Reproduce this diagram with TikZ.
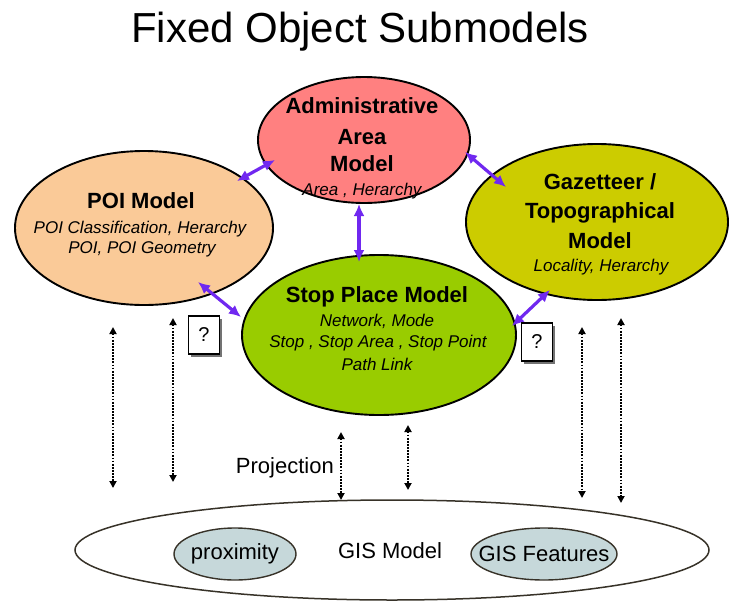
\documentclass[tikz,border=0pt]{standalone}
\usepackage{fontspec}
\setmainfont{Liberation Sans}
\usetikzlibrary{shapes.geometric,arrows.meta,calc,shadows}
\definecolor{adminfill}{RGB}{255,128,128}
\definecolor{poifill}{RGB}{250,202,152}
\definecolor{gazfill}{RGB}{204,204,0}
\definecolor{stopfill}{RGB}{153,204,0}
\definecolor{gisfill}{RGB}{198,216,218}
\definecolor{gisline}{RGB}{55,50,40}
\definecolor{arrowpurple}{RGB}{112,40,240}
\begin{document}
\begin{tikzpicture}[x=1pt,y=-1pt,
  model/.style={ellipse, draw=black, line width=1.9pt, inner sep=0pt},
  gisin/.style={ellipse, draw=gisline, line width=1.4pt, fill=gisfill, inner sep=0pt},
  headtxt/.style={anchor=base, inner sep=0pt, font=\fontsize{22}{26}\selectfont\bfseries},
  subtxt/.style={anchor=base, inner sep=0pt, font=\fontsize{17}{20}\selectfont\itshape},
  plaintxt/.style={font=\fontsize{22}{26}\selectfont},
  parrow/.style={draw=arrowpurple, line width=3.2pt, {Latex[length=12pt,width=11pt]}-{Latex[length=12pt,width=11pt]}},
  dotarrow/.style={draw=black, line width=2.2pt, dash pattern=on 1.8pt off 1.3pt, {Triangle[length=7pt,width=7pt]}-{Triangle[length=7pt,width=7pt]}},
  qbox/.style={draw=black, fill=white, line width=1.1pt, minimum width=31pt, minimum height=38pt, inner sep=0pt,
    font=\fontsize{20}{24}\selectfont, drop shadow={shadow xshift=2.5pt, shadow yshift=-2.5pt, fill=gray!90!black, opacity=1}}
]
\useasboundingbox (0,0) rectangle (729,603);

% title
\node[anchor=base, inner sep=0pt, font=\fontsize{42}{48}\selectfont] (title) at (360,42) {Fixed Object Submodels};

% model ellipses
\node[model, fill=poifill, minimum width=258pt, minimum height=154pt] (poi) at (144,228) {};
\node[model, fill=gazfill, minimum width=262pt, minimum height=156pt] (gaz) at (597,222) {};
\node[model, fill=adminfill, minimum width=212pt, minimum height=126pt] (admin) at (364,140) {};
\node[model, fill=stopfill, minimum width=274pt, minimum height=160pt] (stop) at (379,335) {};

% texts
\node[headtxt] (admin-t1) at (362,113) {Administrative};
\node[headtxt] (admin-t2) at (362,144) {Area};
\node[headtxt] (admin-t3) at (362,171) {Model};
\node[subtxt]  (admin-t4) at (362,195) {Area , Herarchy};

\node[headtxt] (poi-t1) at (141,208) {POI Model};
\node[subtxt]  (poi-t2) at (140,233) {POI Classification, Herarchy};
\node[subtxt]  (poi-t3) at (142,253) {POI, POI Geometry};

\node[headtxt] (gaz-t1) at (600,189) {Gazetteer /};
\node[headtxt] (gaz-t2) at (600,218) {Topographical};
\node[headtxt] (gaz-t3) at (600,248) {Model};
\node[subtxt]  (gaz-t4) at (601,271) {Locality, Herarchy};

\node[headtxt] (stop-t1) at (377,302) {Stop Place Model};
\node[subtxt]  (stop-t2) at (377,326) {Network, Mode};
\node[subtxt]  (stop-t3) at (378,347) {Stop , Stop Area , Stop Point};
\node[subtxt]  (stop-t4) at (377,370) {Path Link};

% purple connectors
\draw[parrow] ($(poi.center)+(93,-47)$) -- ($(admin.center)+(-89,20)$);
\draw[parrow] ($(admin.center)+(101,12)$) -- ($(gaz.center)+(-91,-35)$);
\draw[parrow] ($(admin.center)+(-5,64)$) -- ($(stop.center)+(-20,-73)$);
\draw[parrow] ($(poi.center)+(54,54)$) -- ($(stop.center)+(-138,-18)$);
\draw[parrow] ($(gaz.center)+(-47,68)$) -- ($(stop.center)+(133,-9)$);

% question boxes
\node[qbox] (q1) at (204,335) {?};
\node[qbox] (q2) at (537,342) {?};

% GIS model
\node[ellipse, draw=gisline, line width=1.5pt, fill=white, inner sep=0pt, minimum width=634pt, minimum height=100pt] (gis) at (392,550) {};
\node[plaintxt, inner sep=0pt] (gis-t) at (390,551) {GIS Model};
\node[gisin, minimum width=122pt, minimum height=52pt, label={[plaintxt, inner sep=0pt]center:proximity}] (prox) at (235,554) {};
\node[gisin, minimum width=146pt, minimum height=52pt, label={[plaintxt, inner sep=0pt]center:GIS Features}] (feat) at (544,554) {};

% projection
\node[plaintxt, anchor=base east, inner sep=0pt] (proj) at (334,473) {Projection};

% dotted projection arrows
\coordinate (d1a) at (113,327); \coordinate (d1b) at (113,488);
\coordinate (d2a) at (173,318); \coordinate (d2b) at (173,482);
\coordinate (d3a) at (341,432);
\coordinate (d4a) at (408,425); \coordinate (d4b) at (408,490);
\coordinate (d5a) at (582,327); \coordinate (d5b) at (582,498);
\coordinate (d6a) at (621,318); \coordinate (d6b) at (621,503);
\draw[dotarrow] (d1a) -- (d1b);
\draw[dotarrow] (d2a) -- (d2b);
\draw[dotarrow] (d3a) -- ($(gis.center)+(-51,-50)$);
\draw[dotarrow] (d4a) -- (d4b);
\draw[dotarrow] (d5a) -- (d5b);
\draw[dotarrow] (d6a) -- (d6b);
\end{tikzpicture}
\end{document}
